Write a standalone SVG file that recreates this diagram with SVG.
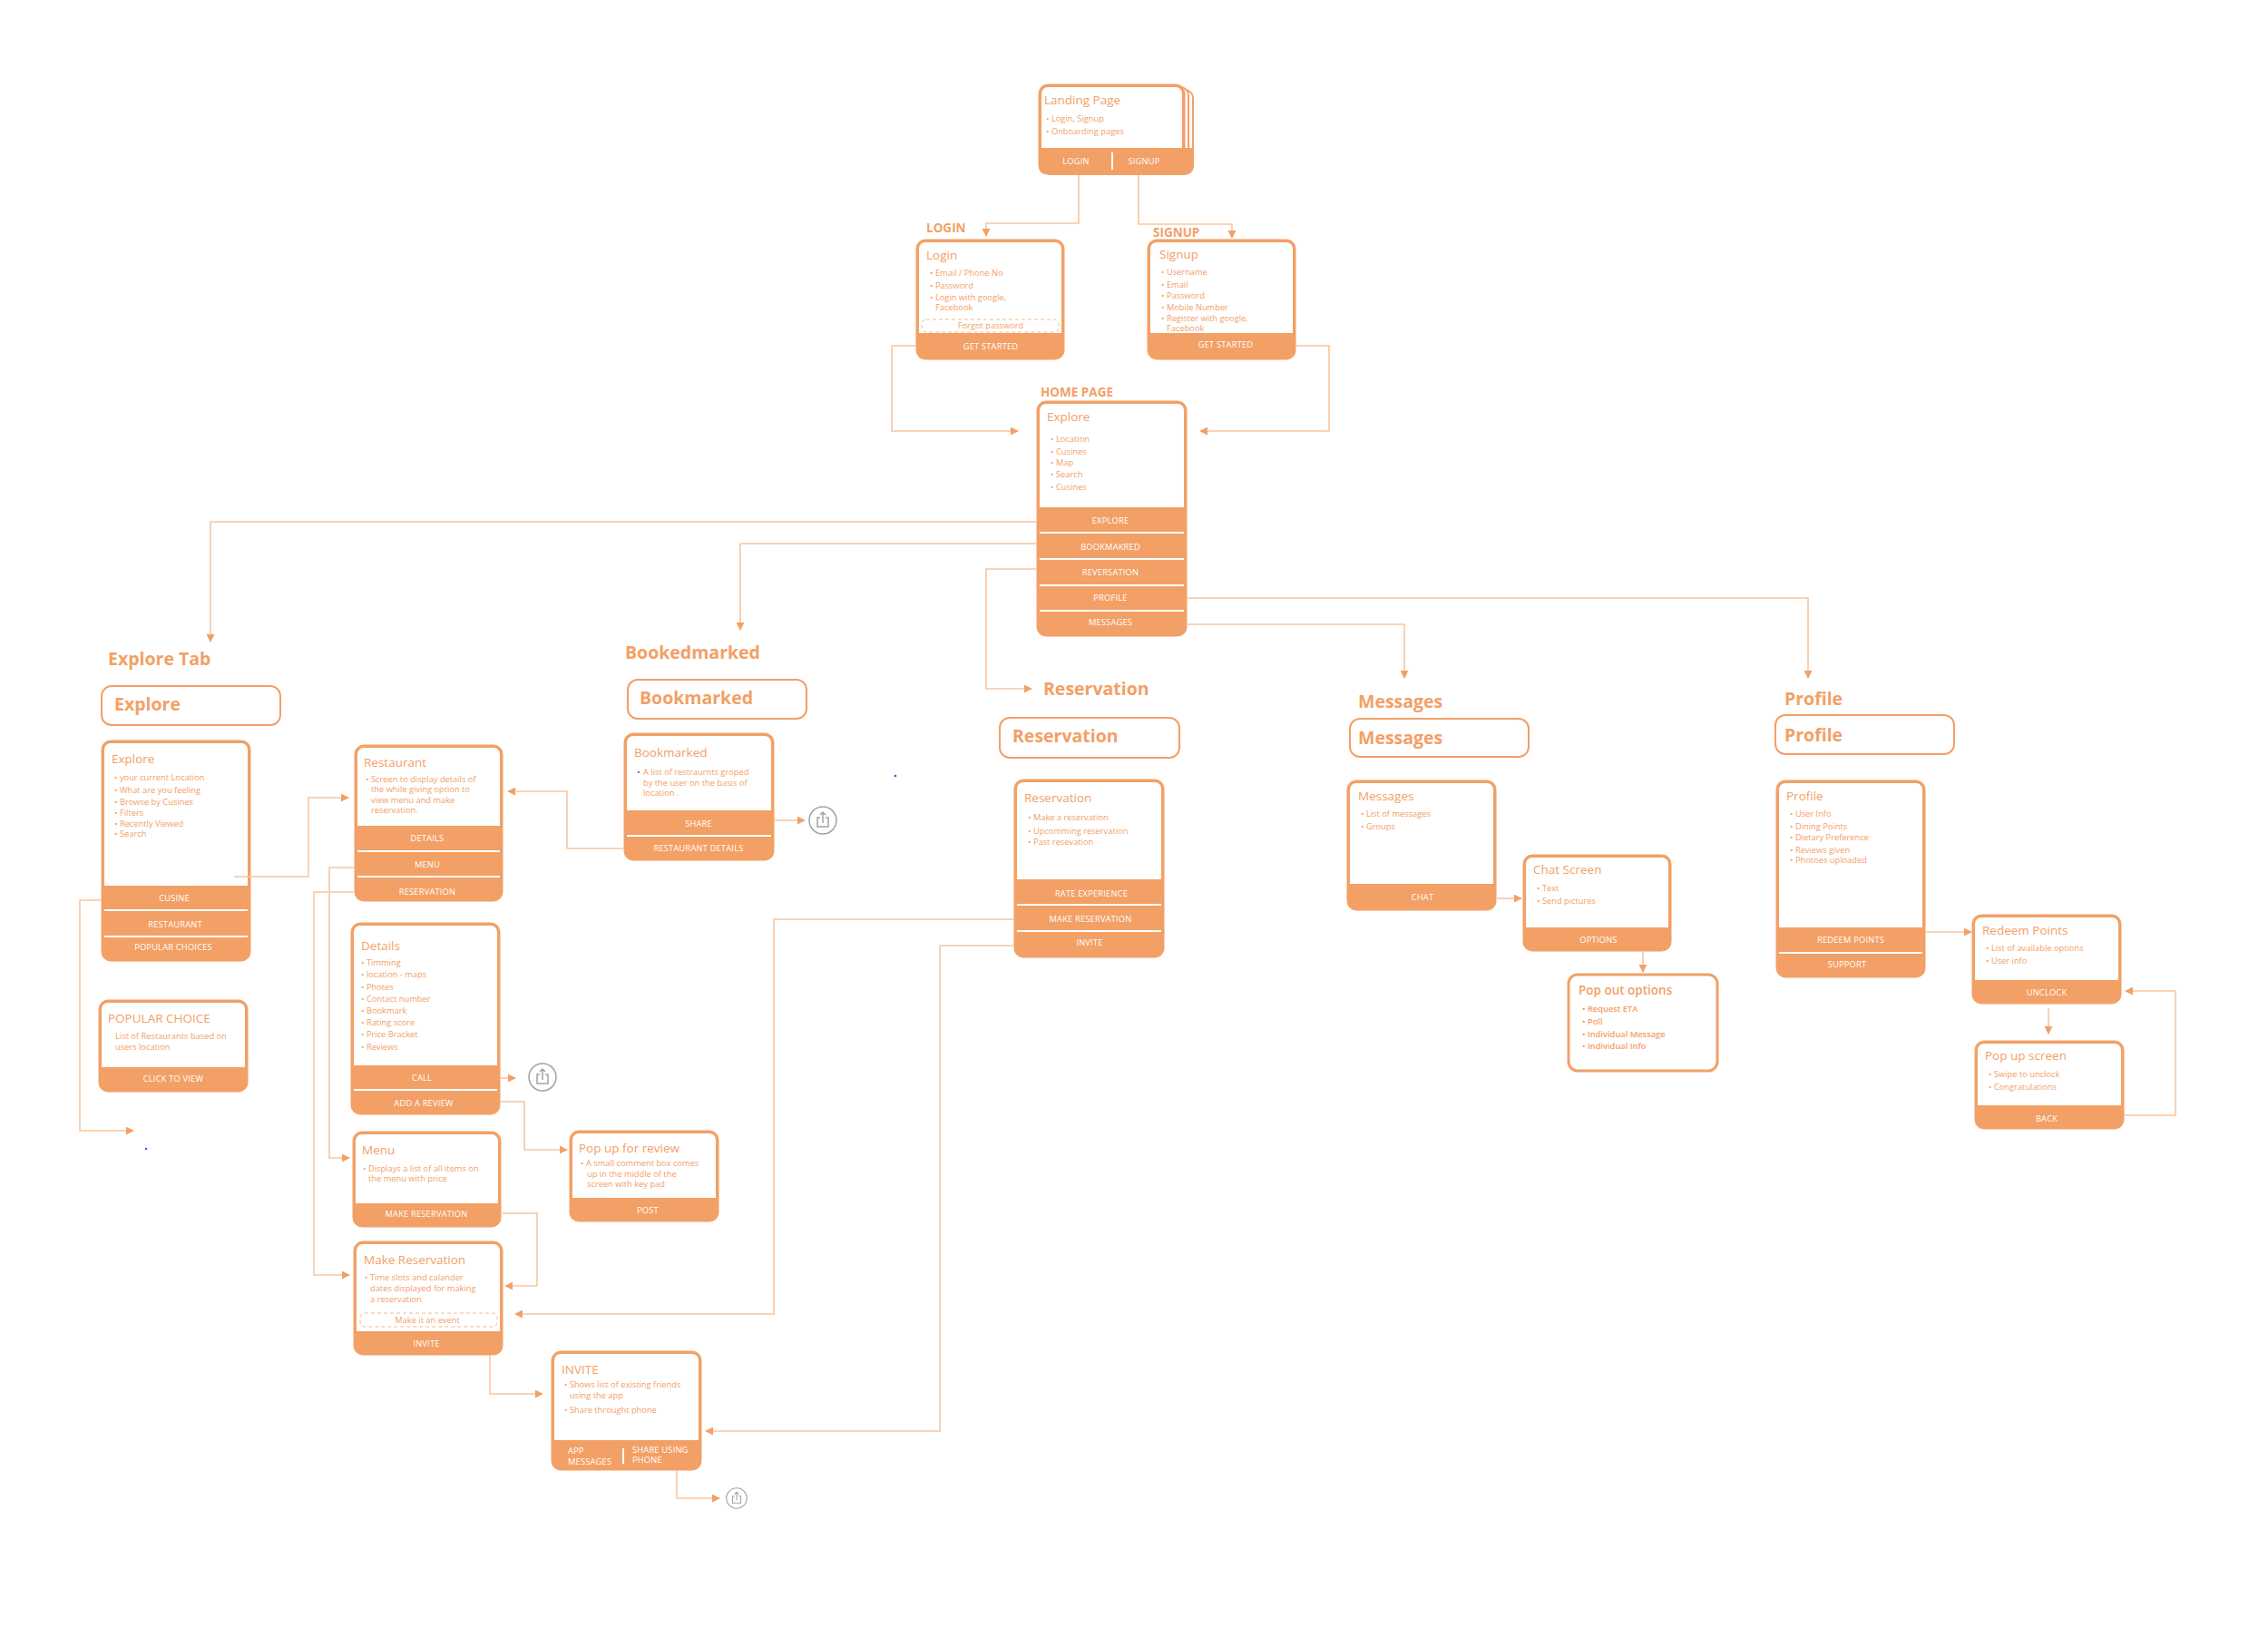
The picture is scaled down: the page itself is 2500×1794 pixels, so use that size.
<svg xmlns="http://www.w3.org/2000/svg" width="2500" height="1794" viewBox="0 0 2500 1794">
<style>
.co{fill:#F2A066;stroke:#F2A066;stroke-width:1}
.ci{fill:#fff}
.hdr{fill:#fff;stroke:#F2A066;stroke-width:2}
.dv{stroke:#fff;stroke-width:2}
.conn{fill:none;stroke:#F8C6A0;stroke-width:1.6}
text{font-family:"Open Sans",Lato,"Liberation Sans",sans-serif;fill:#F2A066}
.ti{font-size:13.5px}
.b{font-size:9.3px}
.bl{font-size:9.3px;fill:#fff;text-anchor:middle;letter-spacing:0.2px}
.bw{font-size:9.3px;fill:#fff;letter-spacing:0.2px}
.lab{font-size:13.5px;font-weight:bold}
.big{font-size:19.5px;font-weight:bold}
.sb{font-weight:600}
.dash{fill:none;stroke:#F6B98C;stroke-width:1;stroke-dasharray:4 3}
</style>
<defs>
<marker id="ah" viewBox="0 0 10 10" refX="9" refY="5" markerWidth="9" markerHeight="9" markerUnits="userSpaceOnUse" orient="auto">
<path d="M0,0 L10,5 L0,10 Z" fill="#F2A066"/>
</marker>
<g id="share"><circle r="15" fill="#fff" stroke="#a3a3a3" stroke-width="1.5"/><path d="M-3,-3 H-6 V7 H6 V-3 H3 M0,3 V-9 M-3,-6 L0,-9 L3,-6" fill="none" stroke="#a3a3a3" stroke-width="1.5"/></g>
</defs>

<g id="share-icons">
<use href="#share" x="907" y="904"/>
<use href="#share" x="598" y="1187"/>
<use href="#share" transform="translate(812,1651) scale(0.75)"/>
</g>

<g id="landing">
<rect x="1151" y="99" width="164" height="93" rx="9" fill="#fff" stroke="#F2A066" stroke-width="2"/>
<rect x="1148" y="96" width="162" height="96" rx="9" fill="#fff" stroke="#F2A066" stroke-width="2"/>
<rect class="co" x="1145" y="93" width="161" height="99" rx="10"/>
<rect class="ci" x="1148" y="96" width="155" height="67" rx="7"/>
<rect class="ci" x="1148" y="155" width="155" height="8"/>
<path d="M1145,163 H1315 V183 Q1315,192 1306,192 H1154 Q1145,192 1145,183 Z" fill="#F2A066"/>
<line x1="1226" y1="168" x2="1226" y2="187" class="dv" stroke-width="1.5"/>
<text class="ti" x="1151" y="115">Landing Page</text>
<text class="b" x="1153" y="134">• Login, Signup</text>
<text class="b" x="1153" y="148">• Onboarding pages</text>
<text class="bl" x="1186" y="181">LOGIN</text>
<text class="bl" x="1261" y="181">SIGNUP</text>
</g>

<g id="login">
<text class="lab" x="1021" y="256">LOGIN</text>
<rect class="co" x="1010" y="264" width="163" height="132" rx="10"/>
<rect class="ci" x="1013" y="267" width="157" height="100" rx="7"/>
<rect class="ci" x="1013" y="359" width="157" height="8"/>
<text class="ti" x="1021" y="286">Login</text>
<text class="b" x="1025" y="304">• Email / Phone No</text>
<text class="b" x="1025" y="318">• Password</text>
<text class="b" x="1025" y="331">• Login with google,</text>
<text class="b" x="1031" y="342">Facebook</text>
<rect class="dash" x="1016" y="352" width="151" height="14" rx="5"/>
<text class="b" x="1092" y="362" text-anchor="middle">Forgot password</text>
<text class="bl" x="1092" y="385">GET STARTED</text>
</g>

<g id="signup">
<text class="lab" x="1271" y="261">SIGNUP</text>
<rect class="co" x="1265" y="264" width="163" height="132" rx="10"/>
<rect class="ci" x="1268" y="267" width="157" height="100" rx="7"/>
<rect class="ci" x="1268" y="359" width="157" height="8"/>
<text class="ti" x="1278" y="285">Signup</text>
<text class="b" x="1280" y="303">• Username</text>
<text class="b" x="1280" y="317">• Email</text>
<text class="b" x="1280" y="329">• Password</text>
<text class="b" x="1280" y="342">• Mobile Number</text>
<text class="b" x="1280" y="354">• Register with google,</text>
<text class="b" x="1286" y="365">Facebook</text>
<text class="bl" x="1351" y="383">GET STARTED</text>
</g>

<g id="home">
<text class="lab" x="1147" y="437">HOME PAGE</text>
<rect class="co" x="1143" y="442" width="165" height="259" rx="10"/>
<rect class="ci" x="1146" y="445" width="159" height="114" rx="7"/>
<rect class="ci" x="1146" y="551" width="159" height="8"/>
<line class="dv" x1="1146" y1="587" x2="1305" y2="587"/>
<line class="dv" x1="1146" y1="616" x2="1305" y2="616"/>
<line class="dv" x1="1146" y1="645" x2="1305" y2="645"/>
<line class="dv" x1="1146" y1="673" x2="1305" y2="673"/>
<text class="ti" x="1154" y="464" font-size="14.5">Explore</text>
<text class="b" x="1158" y="487">• Location</text>
<text class="b" x="1158" y="501">• Cusines</text>
<text class="b" x="1158" y="513">• Map</text>
<text class="b" x="1158" y="526">• Search</text>
<text class="b" x="1158" y="540">• Cusines</text>
<text class="bl" x="1224" y="577">EXPLORE</text>
<text class="bl" x="1224" y="606">BOOKMAKRED</text>
<text class="bl" x="1224" y="634">REVERSATION</text>
<text class="bl" x="1224" y="662">PROFILE</text>
<text class="bl" x="1224" y="689">MESSAGES</text>
</g>

<g id="explore-tab">
<text class="big" x="119" y="733" font-size="19">Explore Tab</text>
<rect class="hdr" x="112" y="756" width="197" height="43" rx="11"/>
<text class="big" x="126" y="783">Explore</text>
</g>

<g id="explore">
<rect class="co" x="112" y="816" width="164" height="243" rx="10"/>
<rect class="ci" x="115" y="819" width="158" height="157" rx="7"/>
<rect class="ci" x="115" y="968" width="158" height="8"/>
<line class="dv" x1="115" y1="1003" x2="273" y2="1003"/>
<line class="dv" x1="115" y1="1032" x2="273" y2="1032"/>
<text class="ti" x="123" y="841">Explore</text>
<text class="b" x="126" y="860">• your current Location</text>
<text class="b" x="126" y="874">• What are you feeling</text>
<text class="b" x="126" y="887">• Browse by Cusines</text>
<text class="b" x="126" y="899">• Filters</text>
<text class="b" x="126" y="911">• Recently Viewed</text>
<text class="b" x="126" y="922">• Search</text>
<text class="bl" x="192" y="993">CUSINE</text>
<text class="bl" x="193" y="1022">RESTAURANT</text>
<text class="bl" x="191" y="1047">POPULAR CHOICES</text>
</g>

<g id="popular-choice">
<rect class="co" x="109" y="1102" width="164" height="101" rx="10"/>
<rect class="ci" x="112" y="1105" width="158" height="71" rx="7"/>
<rect class="ci" x="112" y="1168" width="158" height="8"/>
<text class="ti" x="119" y="1127">POPULAR CHOICE</text>
<text class="b" x="127" y="1145">List of Restaurants based on</text>
<text class="b" x="127" y="1157">users location</text>
<text class="bl" x="191" y="1192">CLICK TO VIEW</text>
</g>

<g id="restaurant">
<rect class="co" x="391" y="821" width="163" height="172" rx="10"/>
<rect class="ci" x="394" y="824" width="157" height="86" rx="7"/>
<rect class="ci" x="394" y="902" width="157" height="8"/>
<line class="dv" x1="394" y1="938" x2="551" y2="938"/>
<line class="dv" x1="394" y1="966" x2="551" y2="966"/>
<text class="ti" x="401" y="845">Restaurant</text>
<text class="b" x="403" y="862">• Screen to display details of</text>
<text class="b" x="409" y="873">the while giving option to</text>
<text class="b" x="409" y="885">view menu and make</text>
<text class="b" x="409" y="896">reservation.</text>
<text class="bl" x="471" y="927">DETAILS</text>
<text class="bl" x="471" y="956">MENU</text>
<text class="bl" x="471" y="986">RESERVATION</text>
</g>

<g id="details">
<rect class="co" x="387" y="1017" width="164" height="211" rx="10"/>
<rect class="ci" x="390" y="1020" width="158" height="154" rx="7"/>
<rect class="ci" x="390" y="1166" width="158" height="8"/>
<line class="dv" x1="390" y1="1201" x2="548" y2="1201"/>
<text class="ti" x="398" y="1047">Details</text>
<text class="b" x="398" y="1064">• Timming</text>
<text class="b" x="398" y="1077">• location - maps</text>
<text class="b" x="398" y="1091">• Photes</text>
<text class="b" x="398" y="1104">• Contact number</text>
<text class="b" x="398" y="1117">• Bookmark</text>
<text class="b" x="398" y="1130">• Rating score</text>
<text class="b" x="398" y="1143">• Price Bracket</text>
<text class="b" x="398" y="1157">• Reviews</text>
<text class="bl" x="465" y="1191">CALL</text>
<text class="bl" x="467" y="1219">ADD A REVIEW</text>
</g>

<g id="menu">
<rect class="co" x="389" y="1247" width="163" height="105" rx="10"/>
<rect class="ci" x="392" y="1250" width="157" height="76" rx="7"/>
<rect class="ci" x="392" y="1318" width="157" height="8"/>
<text class="ti" x="399" y="1272">Menu</text>
<text class="b" x="400" y="1291">• Displays a list of all items on</text>
<text class="b" x="406" y="1302">the menu with price</text>
<text class="bl" x="470" y="1341">MAKE RESERVATION</text>
</g>

<g id="popup-review">
<rect class="co" x="628" y="1246" width="164" height="100" rx="10"/>
<rect class="ci" x="631" y="1249" width="158" height="71" rx="7"/>
<rect class="ci" x="631" y="1312" width="158" height="8"/>
<text class="ti" x="638" y="1270">Pop up for review</text>
<text class="b" x="640" y="1285">• A small comment box comes</text>
<text class="b" x="647" y="1297">up in the middle of the</text>
<text class="b" x="647" y="1308">screen with key pad</text>
<text class="bl" x="714" y="1337">POST</text>
</g>

<g id="make-reservation">
<rect class="co" x="390" y="1368" width="164" height="125" rx="10"/>
<rect class="ci" x="393" y="1371" width="158" height="96" rx="7"/>
<rect class="ci" x="393" y="1459" width="158" height="8"/>
<text class="ti" x="401" y="1393">Make Reservation</text>
<text class="b" x="402" y="1411">• Time slots and calander</text>
<text class="b" x="408" y="1423">dates displayed for making</text>
<text class="b" x="408" y="1435">a  reservation</text>
<rect class="dash" x="397" y="1447" width="151" height="15" rx="5"/>
<text class="b" x="471" y="1458" text-anchor="middle">Make it an event</text>
<text class="bl" x="470" y="1484">INVITE</text>
</g>

<g id="invite">
<rect class="co" x="608" y="1489" width="165" height="131" rx="10"/>
<rect class="ci" x="611" y="1492" width="159" height="95" rx="7"/>
<rect class="ci" x="611" y="1579" width="159" height="8"/>
<text class="ti" x="619" y="1514">INVITE</text>
<text class="b" x="622" y="1529">• Shows list of existing friends</text>
<text class="b" x="628" y="1541">using the app</text>
<text class="b" x="622" y="1557">• Share throught phone</text>
<line x1="687" y1="1596" x2="687" y2="1613" class="dv" stroke-width="1.5"/>
<text class="bw" x="626" y="1602">APP</text>
<text class="bw" x="626" y="1614">MESSAGES</text>
<text class="bw" x="697" y="1601">SHARE USING</text>
<text class="bw" x="697" y="1612">PHONE</text>
</g>

<g id="bookmarked-tab">
<text class="big" x="689" y="726">Bookedmarked</text>
<rect class="hdr" x="692" y="749" width="197" height="43" rx="11"/>
<text class="big" x="705" y="776">Bookmarked</text>
</g>

<g id="bookmarked">
<rect class="co" x="688" y="808" width="165" height="140" rx="10"/>
<rect class="ci" x="691" y="811" width="159" height="82" rx="7"/>
<rect class="ci" x="691" y="885" width="159" height="8"/>
<line class="dv" x1="691" y1="921" x2="850" y2="921"/>
<text class="ti" x="699" y="834">Bookmarked</text>
<text class="b" x="702" y="854" style="fill:#4a5bd0">•</text>
<text class="b" x="709" y="854">A list of restraurnts groped</text>
<text class="b" x="709" y="866">by the user on the basis of</text>
<text class="b" x="709" y="877">location  .</text>
<text class="bl" x="770" y="911">SHARE</text>
<text class="bl" x="770" y="938">RESTAURANT DETAILS</text>
</g>

<g id="reservation-tab">
<text class="big" x="1150" y="766">Reservation</text>
<rect class="hdr" x="1102" y="791" width="198" height="44" rx="11"/>
<text class="big" x="1116" y="818">Reservation</text>
</g>

<g id="reservation">
<rect class="co" x="1118" y="859" width="165" height="196" rx="10"/>
<rect class="ci" x="1121" y="862" width="159" height="107" rx="7"/>
<rect class="ci" x="1121" y="961" width="159" height="8"/>
<line class="dv" x1="1121" y1="997" x2="1280" y2="997"/>
<line class="dv" x1="1121" y1="1026" x2="1280" y2="1026"/>
<text class="ti" x="1129" y="884">Reservation</text>
<text class="b" x="1133" y="904">• Make a reservation</text>
<text class="b" x="1133" y="919">• Upcomming reservation</text>
<text class="b" x="1133" y="931">• Past resevation</text>
<text class="bl" x="1203" y="988">RATE EXPERIENCE</text>
<text class="bl" x="1202" y="1016">MAKE RESERVATION</text>
<text class="bl" x="1201" y="1042">INVITE</text>
</g>

<g id="messages-tab">
<text class="big" x="1497" y="780">Messages</text>
<rect class="hdr" x="1488" y="792" width="197" height="42" rx="11"/>
<text class="big" x="1497" y="820">Messages</text>
</g>

<g id="messages">
<rect class="co" x="1485" y="860" width="164" height="143" rx="10"/>
<rect class="ci" x="1488" y="863" width="158" height="111" rx="7"/>
<rect class="ci" x="1488" y="966" width="158" height="8"/>
<text class="ti" x="1497" y="882">Messages</text>
<text class="b" x="1500" y="900">• List of messages</text>
<text class="b" x="1500" y="914">• Groups</text>
<text class="bl" x="1568" y="992">CHAT</text>
</g>

<g id="chat-screen">
<rect class="co" x="1679" y="942" width="163" height="106" rx="10"/>
<rect class="ci" x="1682" y="945" width="157" height="77" rx="7"/>
<rect class="ci" x="1682" y="1014" width="157" height="8"/>
<text class="ti" x="1690" y="963">Chat Screen</text>
<text class="b" x="1694" y="982">• Text</text>
<text class="b" x="1694" y="996">• Send pictures</text>
<text class="bl" x="1762" y="1039">OPTIONS</text>
</g>

<g id="pop-out-options">
<rect x="1729" y="1074" width="164" height="106" rx="10" fill="#fff" stroke="#F2A066" stroke-width="3"/>
<text class="ti sb" x="1740" y="1096">Pop out options</text>
<text class="b sb" x="1744" y="1115">• Request ETA</text>
<text class="b sb" x="1744" y="1129">• Poll</text>
<text class="b sb" x="1744" y="1143">• Individual Message</text>
<text class="b sb" x="1744" y="1156">• Individual Info</text>
</g>

<g id="profile-tab">
<text class="big" x="1967" y="777">Profile</text>
<rect class="hdr" x="1957" y="788" width="197" height="43" rx="11"/>
<text class="big" x="1967" y="817">Profile</text>
</g>

<g id="profile">
<rect class="co" x="1958" y="860" width="164" height="217" rx="10"/>
<rect class="ci" x="1961" y="863" width="158" height="159" rx="7"/>
<rect class="ci" x="1961" y="1014" width="158" height="8"/>
<line class="dv" x1="1961" y1="1050" x2="2119" y2="1050"/>
<text class="ti" x="1969" y="882">Profile</text>
<text class="b" x="1973" y="900">• User Info</text>
<text class="b" x="1973" y="914">• Dining Points</text>
<text class="b" x="1973" y="926">• Dietary Preference</text>
<text class="b" x="1973" y="940">• Reviews given</text>
<text class="b" x="1973" y="951">• Photoes uploaded</text>
<text class="bl" x="2040" y="1039">REDEEM POINTS</text>
<text class="bl" x="2036" y="1066">SUPPORT</text>
</g>

<g id="redeem-points">
<rect class="co" x="2174" y="1008" width="164" height="98" rx="10"/>
<rect class="ci" x="2177" y="1011" width="158" height="69" rx="7"/>
<rect class="ci" x="2177" y="1072" width="158" height="8"/>
<text class="ti" x="2185" y="1030">Redeem Points</text>
<text class="b" x="2189" y="1048">• List of available options</text>
<text class="b" x="2189" y="1062">• User info</text>
<text class="bl" x="2256" y="1097">UNCLOCK</text>
</g>

<g id="popup-screen">
<rect class="co" x="2177" y="1147" width="164" height="97" rx="10"/>
<rect class="ci" x="2180" y="1150" width="158" height="68" rx="7"/>
<rect class="ci" x="2180" y="1210" width="158" height="8"/>
<text class="ti" x="2188" y="1168">Pop up screen</text>
<text class="b" x="2192" y="1187">• Swipe to unclock</text>
<text class="b" x="2192" y="1201">• Congratulations</text>
<text class="bl" x="2256" y="1236">BACK</text>
</g>

<g id="stray-dots">
<circle cx="161" cy="1266" r="1.3" fill="#4a5bd0"/>
<circle cx="987" cy="855" r="1.3" fill="#4a5bd0"/>
</g>

<g id="connectors">
<path class="conn" d="M1189,193 V246 H1087 V260" marker-end="url(#ah)"/>
<path class="conn" d="M1255,193 V247 H1358 V262" marker-end="url(#ah)"/>
<path class="conn" d="M1009,381 H983 V475 H1122" marker-end="url(#ah)"/>
<path class="conn" d="M1429,381 H1465 V475 H1323" marker-end="url(#ah)"/>
<path class="conn" d="M1142,575 H232 V707" marker-end="url(#ah)"/>
<path class="conn" d="M1142,599 H816 V694" marker-end="url(#ah)"/>
<path class="conn" d="M1142,627 H1087 V759 H1137" marker-end="url(#ah)"/>
<path class="conn" d="M1309,659 H1993 V747" marker-end="url(#ah)"/>
<path class="conn" d="M1309,688 H1548 V747" marker-end="url(#ah)"/>
<path class="conn" d="M258,966 H340 V879 H384" marker-end="url(#ah)"/>
<path class="conn" d="M111,992 H88 V1246 H147" marker-end="url(#ah)"/>
<path class="conn" d="M854,904 H887" marker-end="url(#ah)"/>
<path class="conn" d="M687,935 H625 V872 H560" marker-end="url(#ah)"/>
<path class="conn" d="M390,956 H363 V1276 H385" marker-end="url(#ah)"/>
<path class="conn" d="M390,983 H346 V1405 H385" marker-end="url(#ah)"/>
<path class="conn" d="M552,1188 H568" marker-end="url(#ah)"/>
<path class="conn" d="M552,1214 H578 V1267 H625" marker-end="url(#ah)"/>
<path class="conn" d="M553,1337 H592 V1417 H557" marker-end="url(#ah)"/>
<path class="conn" d="M1117,1013 H853 V1448 H568" marker-end="url(#ah)"/>
<path class="conn" d="M1117,1042 H1036 V1577 H778" marker-end="url(#ah)"/>
<path class="conn" d="M540,1494 V1536 H598" marker-end="url(#ah)"/>
<path class="conn" d="M746,1621 V1651 H793" marker-end="url(#ah)"/>
<path class="conn" d="M1650,990 H1677" marker-end="url(#ah)"/>
<path class="conn" d="M1811,1049 V1071" marker-end="url(#ah)"/>
<path class="conn" d="M2123,1027 H2173" marker-end="url(#ah)"/>
<path class="conn" d="M2258,1111 V1139" marker-end="url(#ah)"/>
<path class="conn" d="M2342,1229 H2398 V1092 H2343" marker-end="url(#ah)"/>
</g>
</svg>
